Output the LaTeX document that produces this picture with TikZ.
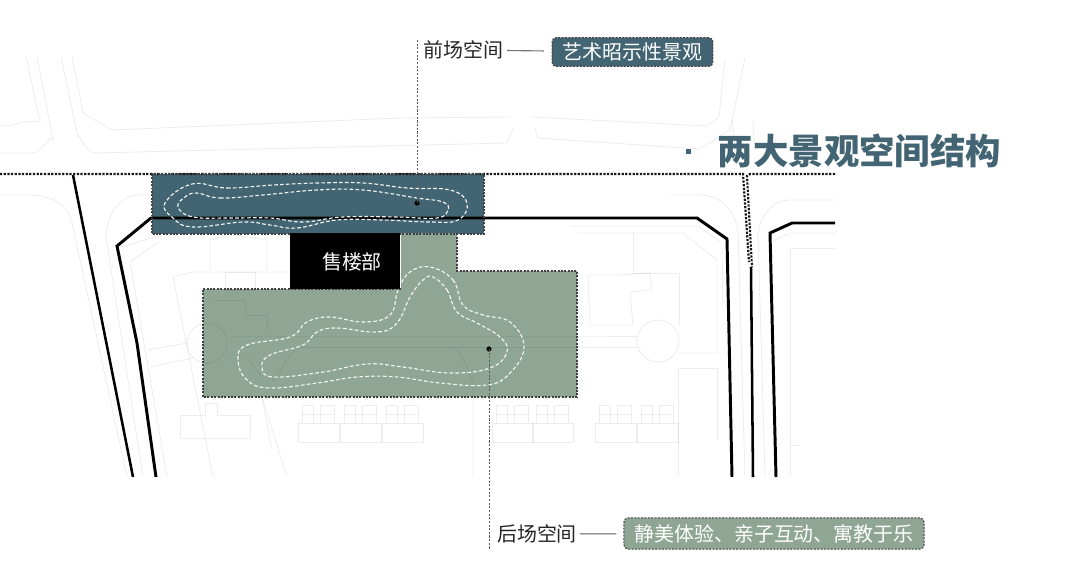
\documentclass[tikz,border=0pt]{standalone}
\usepackage{fontspec}
\newfontfamily\cjk{Noto Sans CJK SC}
\usepackage{tikz}
\definecolor{frontteal}{HTML}{436573}
\definecolor{backgreen}{HTML}{8FA695}

\begin{document}
\begin{tikzpicture}[x=0.025cm,y=-0.025cm,
        map/.style={draw=black,draw opacity=.07,line width=.6pt},
        road/.style={line width=2.1pt,line join=miter},
        guide/.style={line width=1.5pt,dash pattern=on 1.6pt off 1pt,black!90},
        edge guide/.style={line width=.75pt,dash pattern=on 1.4pt off 1pt,black!75},
        trail/.style={white!90!backgreen,line width=.8pt,dash pattern=on 2.6pt off 1.6pt},
        leader/.style={line width=.7pt,dash pattern=on 1.5pt off 1.1pt,black!65},
        tag/.style={rounded corners=3pt,draw,edge guide,text=white,inner sep=0pt,minimum height=.72cm,font=\cjk\fontsize{14.2}{16}\selectfont},
        label/.style={text=black!85,inner sep=0pt,font=\cjk\fontsize{14.2}{16}\selectfont}]

    \useasboundingbox (0,0) rectangle (1080,587);

    \fill[frontteal] (152,174) rectangle (484,234);
    \fill[backgreen] (203,289) -- (401,289) -- (401,233) -- (457,233) -- (457,271) -- (577,271) -- (577,397) -- (203,397) -- cycle;

    % site plan
    \draw[map] (26,56) -- (40,122) to[out=170,in=0] (0,126);
    \draw[map] (37,57) -- (53,140) to[out=100,in=0] (33,153) -- (0,153);
    \draw[map] (61,57) -- (78,137) to[out=100,in=180] (95,153) -- (507,143) -- (513,128);
    \draw[map] (72,57) -- (83,113) -- (112,130) -- (400,118) -- (510,117);
    \draw[map] (532,117) -- (707,126) -- (719,117) -- (725,60);
    \draw[map] (535,128) -- (538,138) -- (700,149) -- (730,130) -- (745,58);
    \draw[map] (0,195) -- (30,195) to[out=0,in=100] (72,223) -- (127,477);
    \draw[map] (150,195) -- (140,195) to[out=180,in=90] (106,237) -- (143,477);
    \draw[map] (120,247) -- (163,235);
    \draw[map] (157,243) -- (130,262) -- (167,477);
    \draw[map] (173,277) -- (213,477);
    \draw[map] (263,400) -- (287,477);
    \draw[map] (262,397) -- (272,450);
    \draw[map] (148,350) -- (187,343);
    \draw[map] (150,367) -- (193,358);
    \draw[map] (207,343) circle (20);
    \draw[map] (658,341) circle (21);
    \draw[map] (173,277) -- (192,272) -- (290,272);
    \draw[map] (210,270) -- (210,240) -- (235,235) -- (267,240) -- (267,270);
    \draw[map] (225,272) rectangle (255,290);
    \draw[map] (215,300) -- (245,300) -- (245,315) -- (267,315) -- (267,330);
    \draw[map] (230,336) -- (577,336) -- (637,336);
    \draw[map] (303,347) -- (637,347);
    \draw[map] (273,377) to[out=-90,in=180] (303,347);
    \draw[map] (450,347) to[out=0,in=-90] (473,377) -- (473,477);
    \draw[map] (247,357) -- (262,377);
    \draw[map] (180,415) -- (205,415) -- (205,403) -- (217,403) -- (217,415) -- (250,415) -- (250,438) -- (180,438) -- cycle;
    \foreach \x in {298,340,382,492,532,595,637} {
        \draw[map] (\x,423) rectangle ++(41,19);
        \draw[map] (\x+4,423) -- (\x+4,405) -- (\x+15,405) -- (\x+15,423);
        \draw[map] (\x+22,423) -- (\x+22,405) -- (\x+36,405) -- (\x+36,423);
        \draw[map] (\x+4,414) -- (\x+36,414);
    }
    \draw[map] (570,226) -- (698,226) -- (722,243) -- (723,310);
    \draw[map] (577,233) -- (683,233) -- (717,260) -- (717,353) -- (679,353);
    \draw[map] (633,233) -- (633,273) -- (679,273) -- (679,325);
    \draw[map] (588,275) -- (617,275) -- (650,273) -- (652,290) -- (630,292) -- (633,325) -- (590,325) -- cycle;
    \draw[map] (678,477) -- (678,368) -- (717,368) -- (717,440);
    \draw[map] (670,195) -- (700,195) to[out=0,in=100] (738,230) -- (745,477);
    \draw[map] (835,200) -- (790,200) to[out=180,in=80] (758,233) -- (765,477);
    \draw[map] (732,120) -- (736,160);
    \draw[map] (753,120) -- (755,150);
    \draw[map] (835,233) -- (790,233) -- (775,240);
    \draw[map] (835,248) -- (790,248) -- (790,477);
    \draw[map] (790,445) -- (800,445);

    % road edges
    \draw[road,line width=1.8pt] (73,175) -- (133,477);
    \draw[road] (156,477) -- (137,343) -- (117,246) -- (151,218) -- (697,218) -- (727,239) -- (732,477);
    \draw[road,line width=1.8pt] (751,267) -- (753,477);
    \draw[road] (835,223) -- (792,223) -- (770,233) -- (776,477);

    \draw[guide] (0,174) -- (743,174) -- (749,262);
    \draw[guide] (835,174) -- (750,174) -- (747,176) -- (752,267);
    \draw[edge guide] (152,174) rectangle (484,234);
    \draw[edge guide] (401,289) -- (203,289) -- (203,397) -- (577,397) -- (577,271) -- (457,271) -- (457,234);

    \draw[trail] plot[smooth cycle,tension=.7] coordinates {(192,184) (227,188) (273,185) (317,183) (363,183) (407,188) (450,190) (467,203) (458,220) (430,222) (383,220) (337,220) (297,228) (270,225) (243,222) (193,227) (173,218) (165,203)};
    \draw[trail] plot[smooth cycle,tension=.7] coordinates {(197,193) (220,198) (263,195) (317,190) (363,190) (417,198) (443,202) (448,210) (437,218) (397,217) (343,217) (303,222) (270,218) (230,218) (193,217) (178,207) (185,197)};
    \draw[trail] plot[smooth cycle,tension=.7] coordinates {(430,267) (453,280) (463,305) (483,315) (510,322) (524,347) (510,373) (487,385) (440,383) (397,377) (357,377) (317,383) (270,388) (247,380) (238,360) (247,345) (290,337) (307,322) (330,317) (363,322) (390,315) (398,290) (410,272)};
    \draw[trail] plot[smooth cycle,tension=.7] coordinates {(433,277) (447,290) (457,312) (477,323) (500,337) (507,352) (490,368) (450,373) (403,367) (367,364) (323,372) (273,377) (262,367) (270,355) (303,345) (317,332) (337,328) (377,332) (397,323) (410,297) (423,280)};

    \node[fill=black,text=white,inner sep=0pt,minimum width=2.75cm,minimum height=1.4cm,font=\cjk\fontsize{14.2}{16}\selectfont,text depth=0pt] (sales) at (345,261) {\hspace{.35cm}售楼部};

    \coordinate (front top) at (417,40);
    \coordinate (back end) at (489,550);
    \fill (417,203) circle (2.6) coordinate (front dot);
    \fill (489,349) circle (2.6) coordinate (back dot);
    \draw[leader] (front top) -- (front dot);
    \draw[leader] (back dot) -- (back end);

    \node[label] (front label) at (463.5,50) {前场空间};
    \node[tag,fill=frontteal,minimum width=4.02cm] (front tag) at (632.5,52) {艺术昭示性景观};
    \draw[black!55,line width=.8pt,shorten <=2.5pt,shorten >=5.5pt] (front label) -- (front tag);

    \node[label] (back label) at (537,534) {后场空间};
    \node[tag,fill=backgreen,minimum width=7.5cm,minimum height=.78cm] (back tag) at (774,533.5) {静美体验、亲子互动、寓教于乐};
    \draw[black!65,line width=.8pt,shorten <=2pt,shorten >=5pt] (back label) -- (back tag);

    \fill[frontteal] (685.5,148.5) rectangle (690.5,153.5);
    \node[text=frontteal,inner sep=0pt,font=\cjk\bfseries\fontsize{25.2}{28}\selectfont] (title) at (859.5,151) {两大景观空间结构};
\end{tikzpicture}
\end{document}
